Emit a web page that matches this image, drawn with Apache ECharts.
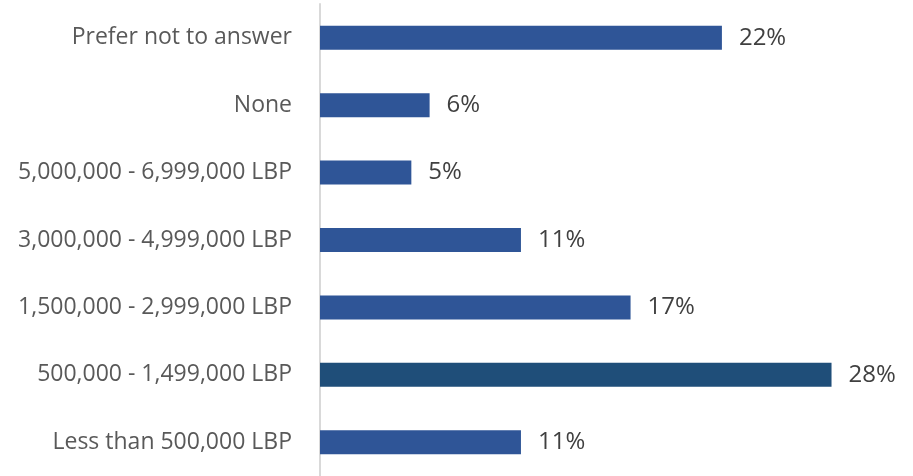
<!DOCTYPE html>
<html>
<head>
<meta charset="utf-8">
<script src="https://cdn.jsdelivr.net/npm/echarts@6/dist/echarts.min.js"></script>
<style>
  html, body { margin: 0; padding: 0; background: #ffffff; }
  #chart { width: 913px; height: 476px; }
</style>
</head>
<body>
<div id="chart"></div>
<script>
// Monthly income brackets, listed bottom to top
const categories = [
  'Less than 500,000 LBP',
  '500,000 - 1,499,000 LBP',
  '1,500,000 - 2,999,000 LBP',
  '3,000,000 - 4,999,000 LBP',
  '5,000,000 - 6,999,000 LBP',
  'None',
  'Prefer not to answer'
];
// Share of respondents, in percent
const shares = [11, 28, 17, 11, 5, 6, 22];
// The bracket drawn in the darker shade
const highlighted = '500,000 - 1,499,000 LBP';

const barColor = '#2F5597';
const highlightColor = '#1F4E79';

const chart = echarts.init(document.getElementById('chart'), null, { renderer: 'canvas' });

chart.setOption({
  animation: false,
  backgroundColor: '#ffffff',
  grid: { left: 320, top: 4, width: 584.6, height: 476, containLabel: false },
  xAxis: {
    type: 'value',
    min: 0,
    max: 32,
    show: false
  },
  yAxis: {
    type: 'category',
    data: categories,
    offset: 1,
    axisLine: { show: true, lineStyle: { color: '#D9D9D9', width: 2 } },
    axisTick: { show: false },
    axisLabel: {
      margin: 27,
      color: '#595959',
      fontFamily: '"Open Sans", sans-serif',
      fontSize: 23,
      padding: [2, 0, 0, 0]
    },
    splitLine: { show: false }
  },
  series: [{
    type: 'bar',
    barWidth: 24,
    data: shares.map((v, i) => ({
      value: v,
      itemStyle: { color: categories[i] === highlighted ? highlightColor : barColor }
    })),
    label: {
      show: true,
      position: 'right',
      distance: 17,
      formatter: p => p.value + '%',
      color: '#404040',
      fontFamily: '"Open Sans", sans-serif',
      fontSize: 24,
      padding: [2, 0, 0, 0]
    }
  }]
});
</script>
</body>
</html>
